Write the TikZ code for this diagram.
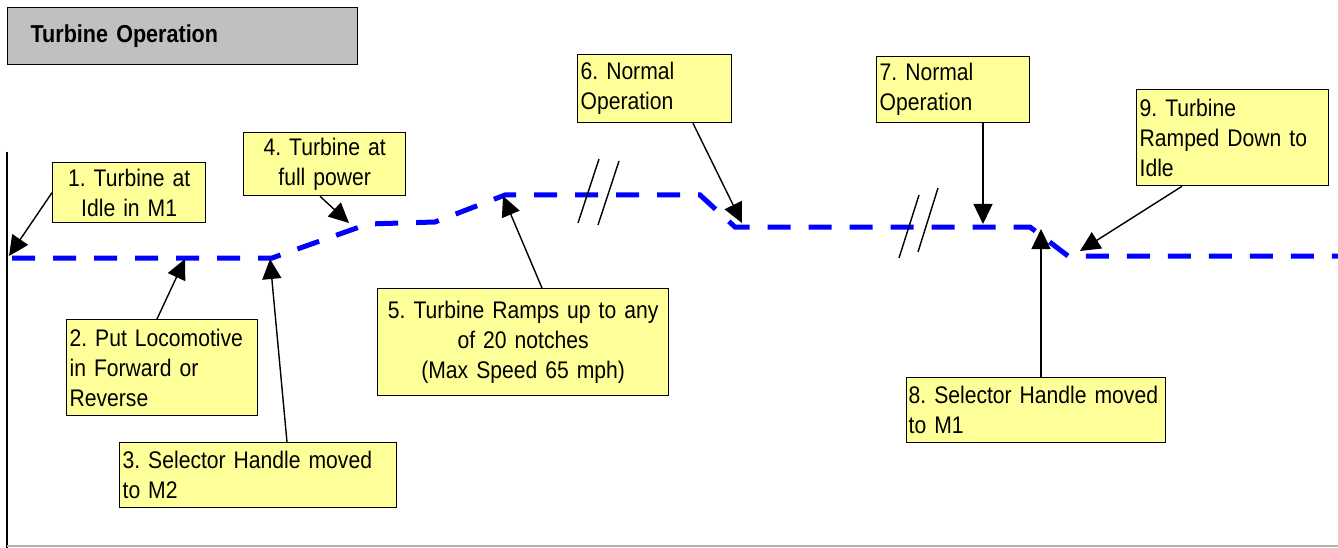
\documentclass[tikz,border=0pt]{standalone}
\usepackage{fontspec}
\setmainfont[FakeStretch=0.88]{Liberation Sans}
\usetikzlibrary{arrows.meta}
\definecolor{notefill}{HTML}{FFFF99}
\definecolor{titlefill}{HTML}{C0C0C0}
\definecolor{rampblue}{HTML}{0000FF}
\frenchspacing
\begin{document}
\begin{tikzpicture}[x=1pt,y=-1pt,>={Triangle[length=20pt,width=19pt]}]
        \tikzset{note/.style={draw, line width=1.3pt, fill=notefill, anchor=north west, inner xsep=3pt, inner ysep=2pt, font=\fontsize{24}{30}\selectfont},
                 notel/.style={note, align=left},
                 notec/.style={note, align=center},
                 callout/.style={->, line width=1.4pt},
                 breakmark/.style={line width=1.4pt}}
        \useasboundingbox (0,0) rectangle (1338,548);
        \node[draw, line width=1.3pt, fill=titlefill, anchor=north west, minimum width=350pt, minimum height=57pt, text width=304pt, inner xsep=23pt, align=left, font=\fontsize{24.5}{28}\selectfont\bfseries] (title) at (7,7) {Turbine Operation};
        \draw[line width=2pt] (7,152) -- (7,548);
        \draw[gray!60, line width=1.5pt] (7,546) -- (1338,546);
        \draw[rampblue, line width=5pt, dash pattern=on 23pt off 18pt] (12,258) -- (272,258) -- (368,224) -- (435,222) -- (505,195) -- (700,195) -- (735,227) -- (1030,227) -- (1068,256) -- (1338,256);
        \draw[breakmark] (578,223) -- (599,159);
        \draw[breakmark] (598,225) -- (619,161);
        \draw[breakmark] (899,258) -- (919,195);
        \draw[breakmark] (918,252) -- (938,188);
        \node[notec, text width=147pt, minimum height=60pt] (idle) at (52,162) {1. Turbine at\\Idle in M1};
        \node[notec, text width=156pt, minimum height=63pt] (full) at (243,132) {4. Turbine at\\full power};
        \node[notel, text width=185pt, minimum height=96pt] (fwd) at (66,319) {2. Put Locomotive\\in Forward or\\Reverse};
        \node[notel, text width=271pt, minimum height=65pt] (mtwo) at (119,442) {3. Selector Handle moved\\to M2};
        \node[notec, text width=285pt, minimum height=107pt] (ramp) at (377,288) {5. Turbine Ramps up to any\\of 20 notches\\(Max Speed 65 mph)};
        \node[notel, text width=148pt, minimum height=68pt] (norma) at (577,54) {6. Normal\\Operation};
        \node[notel, text width=147pt, minimum height=66pt] (normb) at (876,56) {7. Normal\\Operation};
        \node[notel, text width=255pt, inner xsep=2pt, minimum height=65pt] (mone) at (906,377) {8. Selector Handle moved\\to M1};
        \node[notel, text width=186pt, minimum height=96pt] (down) at (1136,89) {9. Turbine\\Ramped Down to\\Idle};
        \coordinate (tidle) at (9,256);
        \coordinate (tfwd) at (185,259);
        \coordinate (tmtwo) at (270,259);
        \coordinate (tfull) at (349,223);
        \coordinate (tramp) at (503,196);
        \coordinate (tnorma) at (742,223);
        \coordinate (tnormb) at (983,224);
        \coordinate (tmone) at (1041,229);
        \coordinate (tdown) at (1080,251);
        \draw[callout] (idle.west) -- (tidle);
        \draw[callout] ([xshift=91pt]fwd.north west) -- (tfwd);
        \draw[callout] ([xshift=168pt]mtwo.north west) -- (tmtwo);
        \draw[callout] ([xshift=77pt]full.south west) -- (tfull);
        \draw[callout] ([xshift=165pt]ramp.north west) -- (tramp);
        \draw[callout] ([xshift=116pt]norma.south west) -- (tnorma);
        \draw[callout] ([xshift=107pt]normb.south west) -- (tnormb);
        \draw[callout] ([xshift=135pt]mone.north west) -- (tmone);
        \draw[callout] ([xshift=46pt]down.south west) -- (tdown);
    \end{tikzpicture}
\end{document}
